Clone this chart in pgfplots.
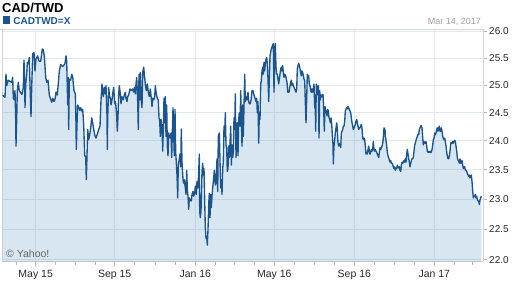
\documentclass[border=0pt]{standalone}
\usepackage{pgfplots}
\pgfplotsset{compat=1.18}
\usepackage{pgfplotstable}
\usepackage{fontspec}
\setmainfont{Liberation Sans}
\definecolor{linec}{RGB}{28,84,142}
\definecolor{fillc}{RGB}{101,159,201}
\definecolor{gridc}{RGB}{225,231,238}
\definecolor{framec}{RGB}{215,215,215}
\definecolor{tickc}{RGB}{185,185,185}
\definecolor{labc}{RGB}{40,40,40}
\definecolor{datec}{RGB}{160,160,160}
\definecolor{copyc}{RGB}{100,100,100}

\pgfplotstableread{
x y
2.7 24.82
4 24.79
5 24.78
6 25.20
6.7 24.99
8.3 25.09
10 25.07
11.7 25.05
12.7 25.14
13.3 24.76
14.3 24.73
15 24.90
15.7 24.38
16 23.91
16.7 24.38
17.3 24.90
18.3 25.05
19.3 24.90
20.7 24.86
22 24.83
23.3 24.96
24 25.46
24.7 24.99
25 24.59
25.7 25.02
26.7 25.20
27.3 25.42
28.3 25.39
29.3 25.51
30 25.02
31 24.43
31.7 24.96
32.7 25.58
34 25.60
35 25.26
36 25.48
37.7 25.54
39 25.44
40.7 25.44
42.3 25.67
43.3 25.65
44.3 25.54
45.7 25.14
46.7 25.05
48 25.09
49.3 24.82
50.7 24.74
51.7 24.69
52.7 24.76
54 24.70
55 24.74
56 24.87
57.3 24.82
58.3 25.02
59.3 25.26
60.7 25.38
62 25.35
63.3 25.35
65 25.40
66 25.54
66.7 25.44
67.7 24.64
68.3 25.14
68.7 24.20
69.3 25.11
70.7 25.09
71.7 25.20
72.7 25.15
74 24.90
75.3 24.84
76 24.29
76.3 23.85
77 24.29
77.7 24.64
78.7 24.60
79.7 24.54
80.7 24.59
81.7 24.53
82.7 24.56
83.7 24.29
84.7 23.74
85.7 23.73
86.3 23.33
87 23.74
87.7 24.20
88.7 24.02
89.7 24.11
90.7 24.23
91.7 24.41
92.7 24.32
94 24.17
95 24.09
96 24.05
97.7 24.14
98.7 24.20
100 24.26
101 24.73
102 25.02
102.7 24.87
103.3 24.79
104.3 24.96
105.3 24.84
106 24.99
107 24.44
107.3 23.85
107.7 24.42
108.7 24.96
109.3 24.82
110.3 24.76
111 24.64
112 24.73
112.7 24.84
113.7 24.96
114.7 24.66
115.3 24.70
116 24.61
116.7 24.44
117.3 24.17
118 24.44
118.7 24.84
119.3 24.99
120.3 24.84
121 24.66
122 24.79
123.3 24.73
124.3 24.82
125.3 24.87
126 24.76
127 24.70
127.7 24.79
128.7 24.82
129.3 24.87
130 24.93
131.3 24.90
132.7 24.93
133.7 24.87
134.7 24.96
135.3 24.84
136 25.02
136.7 25.14
137.7 24.70
138.3 24.20
139 25.20
139.7 24.73
140.3 25.23
141.3 24.70
142 24.59
142.7 25.23
143.7 25.33
144.3 25.20
145.3 25.02
146.3 24.90
147.3 25.02
148.3 24.87
149.3 24.79
150.3 24.93
151.3 24.76
152 24.61
152.7 24.76
153.7 24.73
154.7 24.79
155.3 24.99
156.3 24.84
157.3 24.76
158.3 24.73
159 24.41
159.7 24.35
160.3 24.08
161 24.38
162 24.23
162.7 23.82
163.3 24.20
164 24.76
164.7 24.32
165.3 24.79
166 24.08
166.7 24.64
167.3 23.91
168 23.74
168.7 24.14
169.3 24.08
170.3 24.05
171 24.14
171.7 23.71
172.3 24.14
173 24.59
173.7 24.11
174.3 23.74
175 24.56
175.7 23.80
176.3 23.63
177 23.41
177.7 23.02
178.3 23.58
179.3 23.69
180 23.77
180.7 23.55
181.3 24.21
182 23.63
183 23.33
183.7 23.27
184.3 23.33
185.3 23.19
186 23.08
186.7 23.49
187.3 23.16
188 23.05
188.7 22.83
189.3 23.02
190.3 22.98
191.3 22.97
192 23.08
193 23.13
193.7 23.05
194.7 23.10
195.3 23.22
196.3 23.08
197 23.30
198 23.19
198.7 23.47
199.3 23.77
199.7 22.80
200.3 22.69
201 22.80
202 23.47
202.7 23.61
203.3 23.41
204 23.52
204.7 22.97
205.3 22.53
206 22.35
206.7 22.38
207.3 22.24
208 22.50
208.7 22.91
209.3 23.10
210 22.69
210.7 23.08
211.3 22.86
212 23.05
212.7 23.19
213.7 23.36
214.3 23.49
215.3 23.24
216 23.27
217 23.69
217.7 23.13
218.3 24.08
219.3 24.14
220 23.66
220.7 23.19
221.3 23.33
222 23.08
222.7 23.52
223.3 23.63
224 24.26
224.7 24.08
225.3 24.50
226 23.93
226.7 23.88
227.3 23.47
228 23.52
228.7 23.91
229.3 23.71
230 23.96
230.7 24.26
231.3 23.58
232 23.93
232.7 23.71
233.3 23.80
234 24.41
234.7 24.20
235.3 24.84
236 23.71
236.7 23.96
237.3 24.32
238 23.74
238.7 24.38
239.3 24.50
240 24.26
240.7 24.90
241.3 24.44
242 23.91
242.7 24.64
243.3 24.08
244 24.61
244.7 25.20
245.3 24.70
246 24.79
247 24.73
248 24.87
248.7 24.70
249.3 24.66
250.3 24.66
251.3 24.76
252 24.90
253 24.90
254 24.82
255 24.76
256 24.70
256.7 24.76
257.3 24.50
258 24.70
258.7 23.96
259.3 24.50
260 24.38
260.7 25.02
261.3 25.08
262 25.26
262.7 25.33
263.3 25.20
264 25.42
264.7 25.26
265.3 25.39
266 25.48
266.7 25.51
267.3 25.39
268 25.11
268.7 24.70
269.3 25.11
270 25.54
270.7 25.61
271.3 25.67
272 25.71
272.7 25.74
273.3 25.77
274 24.87
274.7 25.58
275.3 25.77
276 25.33
276.7 25.20
277.3 25.20
278 25.11
278.7 25.02
279.3 25.11
280 25.20
280.7 25.30
281.3 25.33
282 25.26
282.7 25.36
283.3 25.23
284 25.14
284.7 25.20
285.7 25.17
286.3 25.11
287 25.05
287.7 24.87
289 24.87
289.7 24.96
290.7 25.05
291.3 25.09
292 24.99
292.7 25.03
293.3 24.99
294 24.96
294.7 24.93
295.3 24.90
296 24.87
296.7 24.93
297.3 25.30
298 25.36
298.7 25.40
299.3 25.36
300 25.30
300.7 25.23
301.3 25.17
302 25.26
302.7 25.23
303.3 25.17
304 25.11
304.7 25.08
305.3 24.70
306 24.32
306.7 24.76
307.3 25.20
308 25.14
308.7 25.17
309.3 25.02
310 24.99
310.7 24.90
311.3 24.87
312 24.93
312.7 24.87
313.3 24.93
314 25.02
314.7 24.61
315.3 24.56
315.7 24.17
316.3 25.02
317 24.93
317.7 24.82
318.3 24.99
319 24.05
319.7 24.90
320.3 24.73
321 24.82
321.7 24.79
322.3 24.82
323 24.83
323.7 24.56
324.3 24.17
325 24.61
325.7 24.53
326.3 24.53
327 24.44
327.7 24.56
328.3 24.53
329 24.41
329.7 24.38
330.3 24.32
331 24.41
331.7 24.29
332.3 24.11
333 23.93
333.3 23.60
334 23.91
334.7 24.02
335.3 24.14
336 24.23
336.7 24.32
337.3 24.20
338 23.96
338.7 23.91
339.3 23.93
340 23.96
340.7 23.88
341.3 24.14
342 24.17
342.7 24.20
343.3 24.26
344 24.26
344.7 24.35
345.3 24.53
346 24.56
346.7 24.59
347.3 24.57
348 24.61
348.7 24.59
349.3 24.56
350 24.53
350.7 24.50
351.3 24.41
352 24.32
352.7 24.26
353.3 24.20
354 24.23
354.7 24.26
355.3 24.29
356 24.35
356.7 24.38
357.3 24.32
358 24.26
358.7 24.20
359.3 24.23
360 24.23
360.7 24.26
361.3 24.29
362 24.23
362.7 24.05
363.3 24.02
364 24.05
364.7 24.02
365.3 23.91
366 23.77
366.7 23.80
367.3 23.77
368 23.85
368.7 23.91
369.3 23.82
370 23.77
370.7 23.80
371.3 23.85
372 23.82
372.7 23.85
373.3 23.99
374 23.85
374.7 23.82
375.3 23.85
376 23.82
376.7 23.80
377.3 23.77
378 23.74
378.7 23.71
379.3 23.80
380 23.88
380.7 23.85
381.3 23.88
382 23.91
382.7 23.96
383.3 24.05
384 24.23
385 24.20
385.3 24.08
385.7 24.05
386.7 23.91
387.3 23.80
388 23.74
389 23.69
390 23.63
390.7 23.66
391.3 23.61
392.3 23.61
393.3 23.55
394 23.52
394.7 23.55
395.3 23.49
396 23.53
396.7 23.52
397.3 23.58
398 23.55
398.7 23.53
399.3 23.55
400 23.49
400.7 23.47
401.3 23.58
402 23.63
402.7 23.61
403.3 23.63
404 23.66
404.7 23.63
405.3 23.69
406 23.63
406.7 23.77
407.3 23.85
408 23.77
408.7 23.69
409.3 23.63
410 23.55
410.7 23.61
411.3 23.66
412 23.69
412.7 23.69
413.3 23.71
414 23.82
414.7 23.93
415.3 23.96
416 24.01
416.7 24.05
417.3 24.08
418 24.12
418.7 24.11
419.3 24.20
420 24.23
420.7 24.26
421.3 24.27
422 24.23
422.7 24.05
423.3 23.93
424 23.99
424.7 23.96
425.3 23.96
426 23.99
426.7 23.91
427.3 23.82
428 23.80
428.7 23.82
429.3 23.80
430 23.82
430.7 23.80
431.3 23.80
432 23.85
432.7 23.93
433.3 24.02
434 24.05
434.7 24.14
435.3 24.11
436 24.14
436.7 24.20
437.3 24.23
438 24.17
438.7 24.23
439.3 24.26
440 24.17
440.7 24.17
441.3 24.23
442 24.17
442.7 24.08
443.3 24.05
444 24.02
444.7 24.05
445.3 23.99
446 23.91
446.7 23.80
447.3 23.74
448 23.69
448.7 23.69
449.3 23.74
450 23.82
450.7 23.96
451.3 23.97
452 23.96
452.7 23.99
453.3 23.96
454 23.99
454.7 24.01
455.3 23.99
456 23.91
456.7 23.82
457.3 23.71
458 23.66
458.7 23.66
459.3 23.61
460 23.69
460.7 23.61
461.3 23.63
462 23.66
462.7 23.58
463.3 23.52
464 23.55
464.7 23.55
465.3 23.49
466 23.49
466.7 23.47
467.3 23.44
468 23.41
468.7 23.39
469.3 23.41
470 23.36
470.7 23.39
471.3 23.41
472 23.30
472.7 23.13
473.3 23.02
474 23.05
474.7 23.05
475.3 23.08
476 23.02
476.7 23.05
477.3 22.99
478 22.97
478.7 22.97
479.3 22.91
480 22.99
480.7 23.02
481.3 23.05
}\fx

\begin{document}
\begin{tikzpicture}[x=1bp,y=1bp]
\useasboundingbox (0,0) rectangle (512,288);
\begin{axis}[
  at={(2bp,26bp)}, anchor=south west,
  scale only axis, width=481bp, height=232.5bp,
  xmin=2, xmax=483,
  ymode=log, ymin=21.968, ymax=26.038,
  axis line style={draw=framec, line width=1bp},
  xtick={35.7,114.7,195.3,274.3,354.3,434.3},
  xticklabels={May 15,Sep 15,Jan 16,May 16,Sep 16,Jan 17},
  minor xtick={16.1,55.5,75.2,95,134.9,155,175.2,215,234.7,254.5,294.3,314.3,334.3,374.3,394.3,414.3,454.3,472.6},
  ytick={22,22.5,23,23.5,24,24.5,25,25.5,26},
  yticklabel={\pgfmathparse{exp(\tick)}\pgfmathprintnumber[fixed,fixed zerofill,precision=1,assume math mode=true]{\pgfmathresult}},
  xtick pos=bottom, ytick pos=right, yticklabel pos=right,
  tick align=outside,
  major tick length=4bp, minor tick length=3bp,
  tick style={draw=tickc, line width=1bp},
  xmajorgrids, ymajorgrids,
  grid style={draw=gridc, line width=1bp},
  xticklabel style={font=\fontsize{10.5bp}{12bp}\selectfont, text=labc, anchor=north, inner sep=0pt, yshift=-4bp},
  yticklabel style={font=\fontsize{10bp}{12bp}\selectfont, text=labc, anchor=west, inner sep=0pt, xshift=2bp},
]
\addplot[fill=fillc, fill opacity=0.26, draw=none] table[x=x,y=y] {\fx} \closedcycle;
\addplot[draw=linec, line width=1.35bp, line join=round] table[x=x,y=y] {\fx};
\end{axis}
\draw[draw=framec, line width=1bp] (0,258.5) -- (485,258.5);
\node[anchor=base west, inner sep=0pt, font=\bfseries\fontsize{13bp}{15bp}\selectfont] at (2,275.7) {CAD/TWD};
\fill[linec] (2.7,264) rectangle (10,272);
\node[anchor=base west, inner sep=0pt, text=linec, font=\bfseries\fontsize{10bp}{12bp}\selectfont] at (13.3,264) {CADTWD=X};
\node[anchor=base east, inner sep=0pt, text=datec, font=\fontsize{9bp}{11bp}\selectfont] at (481,264) {Mar 14, 2017};
\node[anchor=base west, inner sep=0pt, text=copyc, font=\fontsize{10.5bp}{12bp}\selectfont] at (6,30.5) {© Yahoo!};
\end{tikzpicture}
\end{document}
